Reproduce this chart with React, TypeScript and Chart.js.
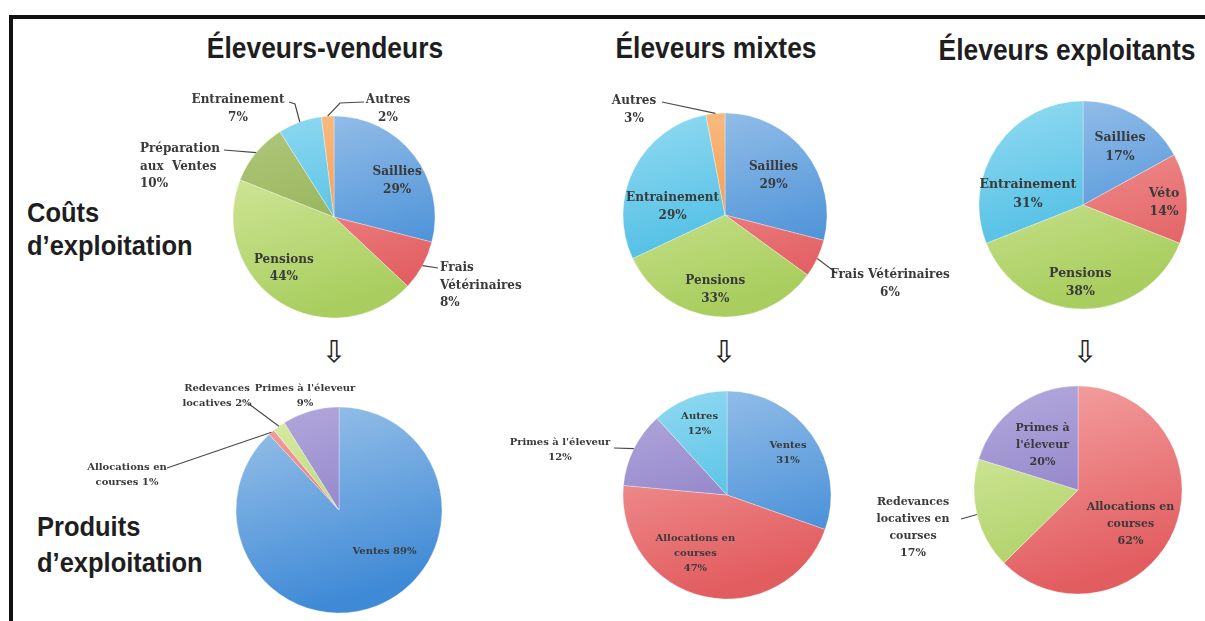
import React, { useEffect, useRef } from "react";
import { Chart, registerables } from "chart.js";

Chart.register(...registerables);

// ---------- DATA ----------
const columnTitles = ["Éleveurs-vendeurs", "Éleveurs mixtes", "Éleveurs exploitants"];
const rowTitleCouts = ["Coûts", "d’exploitation"];
const rowTitleProduits = ["Produits", "d’exploitation"];

const vendeursCoutsCats = ["Saillies", "Frais Vétérinaires", "Pensions", "Préparation aux Ventes", "Entrainement", "Autres"];
const vendeursCoutsVals = [29, 8, 44, 10, 7, 2];

const mixtesCoutsCats = ["Saillies", "Frais Vétérinaires", "Pensions", "Entrainement", "Autres"];
const mixtesCoutsVals = [29, 6, 33, 29, 3];

const exploitantsCoutsCats = ["Saillies", "Véto", "Pensions", "Entrainement"];
const exploitantsCoutsVals = [17, 14, 38, 31];

const vendeursProduitsCats = ["Ventes", "Allocations en courses", "Redevances locatives", "Primes à l'éleveur"];
const vendeursProduitsVals = [89, 1, 2, 9];

const mixtesProduitsCats = ["Ventes", "Allocations en courses", "Primes à l'éleveur", "Autres"];
const mixtesProduitsVals = [31, 47, 12, 12];

const exploitantsProduitsCats = ["Allocations en courses", "Redevances locatives en courses", "Primes à l'éleveur"];
const exploitantsProduitsVals = [62, 17, 20];

// ---------- STYLE ----------
const PALETTE: Record<string, [string, string]> = {
  blue: ["#9ec4ea", "#3f8ad6"],
  red: ["#f5a5a5", "#e25d60"],
  green: ["#dcedaa", "#a9ce5f"],
  olive: ["#b2c97e", "#8aa94a"],
  cyan: ["#94dbf2", "#36b4df"],
  orange: ["#f9c089", "#f18a38"],
  purple: ["#b5abdd", "#7f71c1"],
};

type Place =
  | { kind: "in"; rf: number; da: number }
  | {
      kind: "out";
      tx: number;
      ty: number;
      align: "left" | "center";
      anchor?: [number, number];
      elbow?: [number, number];
    };

type PieCfg = {
  categories: string[];
  values: number[];
  colors: string[];
  templates: string[];
  places: Place[];
  cx: number;
  cy: number;
  r: number;
  box: [number, number, number, number];
  fontSize: number;
  lineHeight: number;
};

const pies: PieCfg[] = [
  {
    categories: vendeursCoutsCats,
    values: vendeursCoutsVals,
    colors: ["blue", "red", "green", "olive", "cyan", "orange"],
    templates: ["Saillies\n{v}%", "Frais\nVétérinaires\n{v}%", "Pensions\n{v}%", "Préparation\naux  Ventes\n{v}%", "Entrainement\n{v}%", "Autres\n{v}%"],
    places: [
      { kind: "in", rf: 0.72, da: 8 },
      { kind: "out", tx: 106, ty: 51, align: "left", anchor: [104, 51] },
      { kind: "in", rf: 0.71, da: 12 },
      { kind: "out", tx: -194, ty: -68, align: "left", anchor: [-110, -67] },
      { kind: "out", tx: -96, ty: -117, align: "center", anchor: [-45, -115], elbow: [-39, -113] },
      { kind: "out", tx: 54, ty: -117, align: "center", anchor: [30, -115], elbow: [6, -114] },
    ],
    cx: 334,
    cy: 217,
    r: 101,
    box: [100, 80, 440, 250],
    fontSize: 12,
    lineHeight: 17.5,
  },
  {
    categories: mixtesCoutsCats,
    values: mixtesCoutsVals,
    colors: ["blue", "red", "green", "cyan", "orange"],
    templates: ["Saillies\n{v}%", "Frais Vétérinaires\n{v}%", "Pensions\n{v}%", "Entrainement\n{v}%", "Autres\n{v}%"],
    places: [
      { kind: "in", rf: 0.61, da: -1 },
      { kind: "out", tx: 165, ty: 60, align: "center", anchor: [110, 57] },
      { kind: "in", rf: 0.74, da: 2 },
      { kind: "in", rf: 0.52, da: -18 },
      { kind: "out", tx: -91, ty: -114, align: "center", anchor: [-63, -113] },
    ],
    cx: 725,
    cy: 215,
    r: 102,
    box: [590, 80, 380, 250],
    fontSize: 12,
    lineHeight: 18,
  },
  {
    categories: exploitantsCoutsCats,
    values: exploitantsCoutsVals,
    colors: ["blue", "red", "green", "cyan"],
    templates: ["Saillies\n{v}%", "Véto\n{v}%", "Pensions\n{v}%", "Entrainement\n{v}%"],
    places: [
      { kind: "in", rf: 0.66, da: 2 },
      { kind: "in", rf: 0.78, da: 2 },
      { kind: "in", rf: 0.75, da: 2 },
      { kind: "in", rf: 0.54, da: -23 },
    ],
    cx: 1083,
    cy: 205,
    r: 104,
    box: [970, 90, 230, 230],
    fontSize: 12.5,
    lineHeight: 18.5,
  },
  {
    categories: vendeursProduitsCats,
    values: vendeursProduitsVals,
    colors: ["blue", "red", "green", "purple"],
    templates: ["Ventes {v}%", "Allocations en\ncourses {v}%", "Redevances\nlocatives {v}%", "Primes à l'éleveur\n{v}%"],
    places: [
      { kind: "in", rf: 0.6, da: -26 },
      { kind: "out", tx: -212, ty: -43, align: "center", anchor: [-172, -42] },
      { kind: "out", tx: -122, ty: -122, align: "center", anchor: [-90, -106] },
      { kind: "out", tx: -34, ty: -122, align: "center" },
    ],
    cx: 339,
    cy: 510,
    r: 103,
    box: [60, 370, 420, 251],
    fontSize: 10,
    lineHeight: 15,
  },
  {
    categories: mixtesProduitsCats,
    values: mixtesProduitsVals,
    colors: ["blue", "red", "purple", "cyan"],
    templates: ["Ventes\n{v}%", "Allocations en\ncourses\n{v}%", "Primes à l'éleveur\n{v}%", "Autres\n{v}%"],
    places: [
      { kind: "in", rf: 0.71, da: 1 },
      { kind: "in", rf: 0.64, da: 16 },
      { kind: "out", tx: -167, ty: -53, align: "center", anchor: [-113, -47] },
      { kind: "in", rf: 0.73, da: 0 },
    ],
    cx: 727,
    cy: 495,
    r: 104,
    box: [490, 370, 370, 251],
    fontSize: 10,
    lineHeight: 15,
  },
  {
    categories: exploitantsProduitsCats,
    values: exploitantsProduitsVals,
    colors: ["red", "green", "purple"],
    templates: ["Allocations en\ncourses\n{v}%", "Redevances\nlocatives en\ncourses\n{v}%", "Primes à\nl'éleveur\n{v}%"],
    places: [
      { kind: "in", rf: 0.6, da: 10 },
      { kind: "out", tx: -165, ty: 12, align: "center", anchor: [-117, 29] },
      { kind: "in", rf: 0.55, da: -2 },
    ],
    cx: 1078,
    cy: 490,
    r: 104,
    box: [860, 370, 345, 251],
    fontSize: 11,
    lineHeight: 17,
  },
];

function makeLabelPlugin(spec: PieCfg) {
  return {
    id: "sliceLabels",
    afterDatasetsDraw(chart: any) {
      const ctx: CanvasRenderingContext2D = chart.ctx;
      const meta = chart.getDatasetMeta(0);
      const values = chart.data.datasets[0].data as number[];
      ctx.save();
      ctx.font = `bold ${spec.fontSize}px "DejaVu Serif"`;
      ctx.fillStyle = "#3a3a3a";
      ctx.strokeStyle = "#4a4a4a";
      ctx.lineWidth = 1.2;
      ctx.textBaseline = "middle";
      meta.data.forEach((arc: any, i: number) => {
        const p = arc.getProps(["x", "y", "startAngle", "endAngle", "outerRadius"], true);
        const mid = (p.startAngle + p.endAngle) / 2;
        const lines = spec.templates[i].replace("{v}", String(values[i])).split("\n");
        const place = spec.places[i];
        let x0 = 0;
        let y0 = 0;
        let align: CanvasTextAlign = "center";
        if (place.kind === "in") {
          const a = mid + (place.da * Math.PI) / 180;
          const lx = p.x + Math.cos(a) * p.outerRadius * place.rf;
          const ly = p.y + Math.sin(a) * p.outerRadius * place.rf;
          x0 = lx;
          y0 = ly - ((lines.length - 1) * spec.lineHeight) / 2;
        } else {
          align = place.align;
          x0 = p.x + place.tx;
          y0 = p.y + place.ty;
          if (place.anchor) {
            ctx.beginPath();
            ctx.moveTo(p.x + place.anchor[0], p.y + place.anchor[1]);
            if (place.elbow) ctx.lineTo(p.x + place.elbow[0], p.y + place.elbow[1]);
            ctx.lineTo(p.x + Math.cos(mid) * p.outerRadius, p.y + Math.sin(mid) * p.outerRadius);
            ctx.stroke();
          }
        }
        ctx.textAlign = align;
        lines.forEach((ln, k) => ctx.fillText(ln, x0, y0 + k * spec.lineHeight));
      });
      ctx.restore();
    },
  };
}

function gradientFor(context: any, key: string) {
  const chart = context.chart;
  const area = chart.chartArea;
  const [light, dark] = PALETTE[key];
  if (!area) return dark;
  const g = chart.ctx.createLinearGradient(area.left, area.top, area.right * 0.3 + area.left * 0.7, area.bottom);
  g.addColorStop(0, light);
  g.addColorStop(1, dark);
  return g;
}

function PieChart({ cfg }: { cfg: PieCfg }) {
  const ref = useRef<HTMLCanvasElement>(null);
  useEffect(() => {
    const [bl, bt, bw, bh] = cfg.box;
    const chart = new Chart(ref.current as HTMLCanvasElement, {
      type: "pie",
      data: {
        labels: cfg.categories,
        datasets: [
          {
            data: cfg.values,
            backgroundColor: (c: any) => gradientFor(c, cfg.colors[c.dataIndex]),
            borderColor: "rgba(255,255,255,0.55)",
            borderWidth: 0.6,
            radius: cfg.r,
          } as any,
        ],
      },
      options: {
        responsive: false,
        animation: false,
        events: [],
        layout: {
          padding: {
            left: cfg.cx - cfg.r - bl,
            right: bl + bw - cfg.cx - cfg.r,
            top: cfg.cy - cfg.r - bt,
            bottom: bt + bh - cfg.cy - cfg.r,
          },
        },
        plugins: { legend: { display: false }, tooltip: { enabled: false } },
      },
      plugins: [makeLabelPlugin(cfg)],
    });
    return () => chart.destroy();
  }, []);
  const [bl, bt, bw, bh] = cfg.box;
  return <canvas ref={ref} width={bw} height={bh} style={{ position: "absolute", left: bl, top: bt, width: bw, height: bh }} />;
}

const titleFont = '"Liberation Sans", Arial, sans-serif';

function Title({ text, cx, cy, size, sx }: { text: string; cx: number; cy: number; size: number; sx: number }) {
  return (
    <div
      style={{
        position: "absolute",
        left: cx - 200,
        top: cy - size * 0.6,
        width: 400,
        textAlign: "center",
        fontFamily: titleFont,
        fontWeight: 700,
        fontSize: size,
        lineHeight: `${size * 1.2}px`,
        color: "#1e1e1e",
        transform: `scaleX(${sx})`,
        transformOrigin: "center",
        whiteSpace: "nowrap",
      }}
    >
      {text}
    </div>
  );
}

function RowLabel({ lines, left, top, lh }: { lines: string[]; left: number; top: number; lh: number }) {
  return (
    <div
      style={{
        position: "absolute",
        left,
        top,
        fontFamily: titleFont,
        fontWeight: 700,
        fontSize: 28,
        lineHeight: `${lh}px`,
        color: "#1e1e1e",
        transform: "scaleX(0.91)",
        transformOrigin: "left top",
        whiteSpace: "nowrap",
      }}
    >
      {lines.map((l, i) => (
        <div key={i}>{l}</div>
      ))}
    </div>
  );
}

function Arrow({ cx, cy }: { cx: number; cy: number }) {
  return (
    <div
      style={{
        position: "absolute",
        left: cx - 20,
        top: cy - 18,
        width: 40,
        textAlign: "center",
        fontFamily: '"DejaVu Sans", sans-serif',
        fontSize: 30,
        lineHeight: "36px",
        color: "#222",
      }}
    >
      ⇩
    </div>
  );
}

export default function App() {
  return (
    <div
      style={{
        position: "fixed",
        left: 0,
        top: 0,
        width: 1205,
        height: 621,
        background: "#ffffff",
        overflow: "hidden",
      }}
    >
      <div
        style={{
          position: "absolute",
          left: 9,
          top: 15,
          width: 1250,
          height: 700,
          borderTop: "4px solid #111",
          borderLeft: "4px solid #111",
        }}
      />
      <Title text={columnTitles[0]} cx={325} cy={48} size={30} sx={0.88} />
      <Title text={columnTitles[1]} cx={716} cy={48} size={30} sx={0.88} />
      <Title text={columnTitles[2]} cx={1067} cy={50} size={30} sx={0.88} />
      <RowLabel lines={rowTitleCouts} left={27} top={196} lh={33} />
      <RowLabel lines={rowTitleProduits} left={37} top={509} lh={36} />
      <Arrow cx={334} cy={352} />
      <Arrow cx={724} cy={352} />
      <Arrow cx={1085} cy={352} />
      {pies.map((p, i) => (
        <PieChart key={i} cfg={p} />
      ))}
    </div>
  );
}
